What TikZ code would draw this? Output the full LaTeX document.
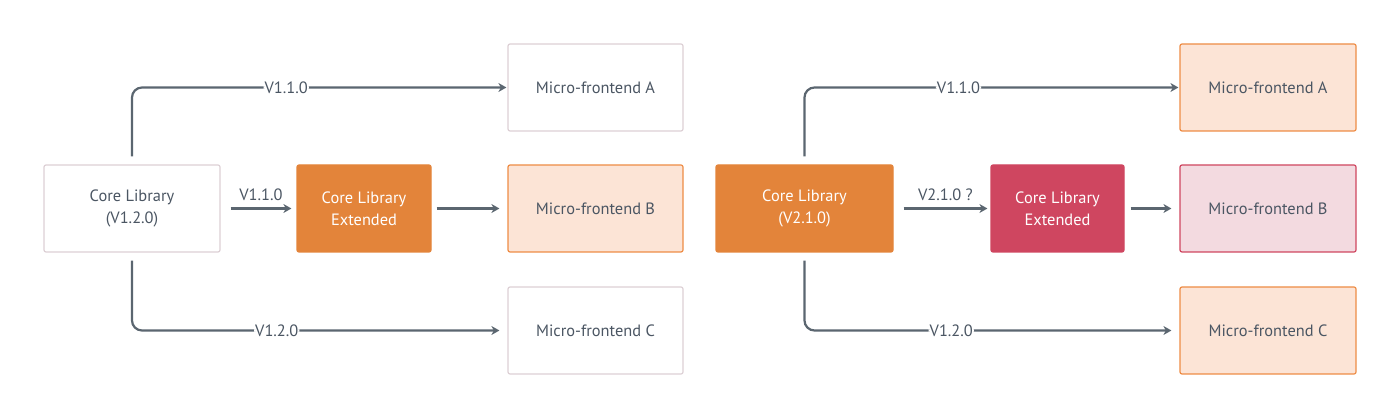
\documentclass[tikz,border=0pt]{standalone}
\usepackage{fontspec}
\setmainfont{PT Sans}
\usetikzlibrary{arrows.meta}

\definecolor{libOrange}{HTML}{E3843A}
\definecolor{libRed}{HTML}{CF4660}
\definecolor{peachFill}{HTML}{FCE4D6}
\definecolor{peachLine}{HTML}{EE8C45}
\definecolor{pinkFill}{HTML}{F3DAE0}
\definecolor{plainLine}{HTML}{DDD0D5}
\definecolor{wireGray}{HTML}{5B6670}
\definecolor{textGray}{HTML}{4B5663}

\tikzset{
    box/.style={rectangle, rounded corners=2pt, minimum height=87pt, align=center,
        line width=1.2pt, text=textGray, font=\fontsize{16.4}{22}\selectfont},
    plainbox/.style={box, draw=plainLine, fill=white},
    orangebox/.style={box, draw=libOrange, fill=libOrange, text=white},
    redbox/.style={box, draw=libRed, fill=libRed, text=white},
    peachbox/.style={box, draw=peachLine, fill=peachFill},
    pinkbox/.style={box, draw=libRed, fill=pinkFill},
    conn/.style={draw=wireGray, line width=2.2pt, rounded corners=10pt,
        -{Stealth[length=8pt,width=9pt,inset=2.5pt]}},
    vlabel/.style={fill=white, inner sep=1pt, text=textGray, font=\fontsize{16.4}{18}\selectfont}
}

\begin{document}
\begin{tikzpicture}[x=1pt, y=-1pt]
    \useasboundingbox (0, 0) rectangle (1400, 419);

    % left side
    \node[plainbox, minimum width=176pt] (core1) at (132, 208.5) {Core Library\\(V1.2.0)};
    \node[orangebox, minimum width=134pt] (ext1) at (364, 208.5) {Core Library\\Extended};
    \node[plainbox, minimum width=175pt] (mfA1) at (595.5, 87.5) {Micro-frontend A};
    \node[peachbox, minimum width=175pt] (mfB1) at (595.5, 208.5) {Micro-frontend B};
    \node[plainbox, minimum width=175pt] (mfC1) at (595.5, 330.5) {Micro-frontend C};

        \draw[conn]([yshift=8pt]core1.north) |- node[vlabel, pos=0.706]{V1.1.0} ([xshift=-1pt]mfA1.west);
        \draw[conn]([xshift=10pt]core1.east) -- node[vlabel, above=6pt]{V1.1.0} ([xshift=-5pt]ext1.west);
        \draw[conn]([xshift=5pt]ext1.east) -- ([xshift=-8pt]mfB1.west);
        \draw[conn]([yshift=-8pt]core1.south) |- node[vlabel, pos=0.697]{V1.2.0} ([xshift=-8pt]mfC1.west);

    % right side
    \node[orangebox, minimum width=177pt] (core2) at (804.5, 208.5) {Core Library\\(V2.1.0)};
    \node[redbox, minimum width=133pt] (ext2) at (1057.5, 208.5) {Core Library\\Extended};
    \node[peachbox, minimum width=176pt] (mfA2) at (1268, 87.5) {Micro-frontend A};
    \node[pinkbox, minimum width=176pt] (mfB2) at (1268, 208.5) {Micro-frontend B};
    \node[peachbox, minimum width=176pt] (mfC2) at (1268, 330.5) {Micro-frontend C};

        \draw[conn]([yshift=8pt]core2.north) |- node[vlabel, pos=0.706]{V1.1.0} ([xshift=-1pt]mfA2.west);
        \draw[conn]([xshift=10pt]core2.east) -- node[vlabel, above=6pt]{V2.1.0 ?} ([xshift=-3pt]ext2.west);
        \draw[conn]([xshift=6pt]ext2.east) -- ([xshift=-8pt]mfB2.west);
        \draw[conn]([yshift=-8pt]core2.south) |- node[vlabel, pos=0.7]{V1.2.0} ([xshift=-8pt]mfC2.west);

\end{tikzpicture}
\end{document}
